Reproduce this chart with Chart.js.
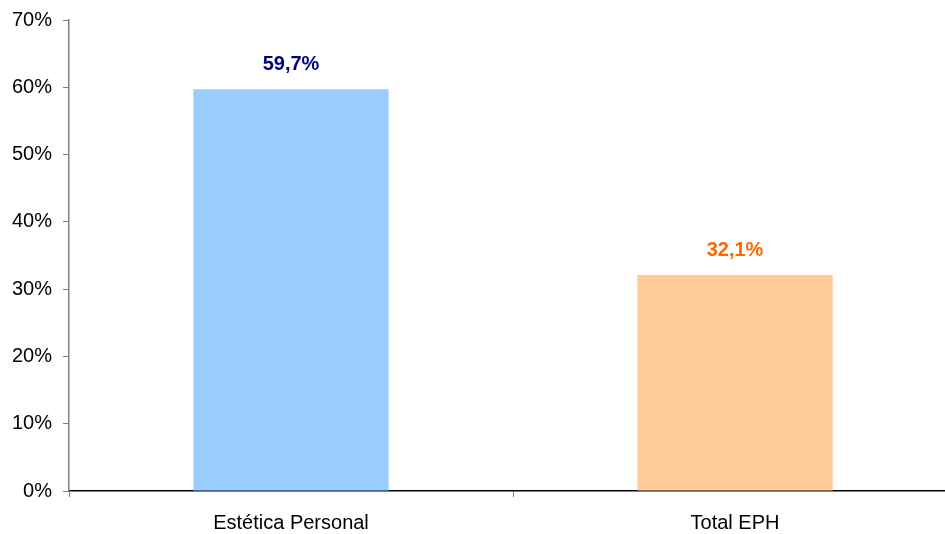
<!DOCTYPE html>
<html>
<head>
<meta charset="utf-8">
<script src="https://cdn.jsdelivr.net/npm/chart.js@4.4.1/dist/chart.umd.min.js"></script>
<style>
  body { margin: 0; background: #fff; overflow: hidden; }
  #wrap { width: 957px; height: 534px; }
</style>
</head>
<body>
<div id="wrap"><canvas id="barChart"></canvas></div>
<script>
// datos
const categorias = ['Estética Personal', 'Total EPH'];
const valores = [59.7, 32.1];
const coloresBarra = ['#99CCFF', '#FFCC99'];
const coloresEtiqueta = ['#000080', '#FF6600'];

// etiquetas sobre las barras
const etiquetas = {
    id: 'etiquetas',
    afterDatasetsDraw(chart) {
        const ctx = chart.ctx;
        const meta = chart.getDatasetMeta(0);
        ctx.save();
        ctx.font = 'bold 20px "Liberation Sans", Arial, sans-serif';
        ctx.textAlign = 'center';
        ctx.textBaseline = 'middle';
        meta.data.forEach((bar, i) => {
            ctx.fillStyle = coloresEtiqueta[i];
            ctx.fillText(valores[i].toFixed(1).replace('.', ',') + '%', bar.x, bar.y - 25);
        });
        ctx.restore();
    }
};

// el gráfico original está recortado a la derecha: el área sigue más allá de 945px
new Chart(document.getElementById('barChart'), {
    type: 'bar',
    data: {
        labels: categorias,
        datasets: [{
            data: valores,
            backgroundColor: coloresBarra,
            borderWidth: 0,
            categoryPercentage: 1,
            barPercentage: 0.44
        }]
    },
    options: {
        responsive: true,
        maintainAspectRatio: false,
        animation: false,
        layout: { padding: { top: 0, right: 0, left: 0, bottom: 0 } },
        plugins: { legend: { display: false }, tooltip: { enabled: false } },
        scales: {
            x: {
                offset: true,
                afterFit: s => { s.height = 43; },
                grid: { offset: true, drawOnChartArea: false, drawTicks: true, tickLength: 6, color: '#808080' },
                border: { color: '#000', width: 1.5 },
                ticks: { color: '#000', padding: 14, font: { family: '"Liberation Sans", Arial, sans-serif', size: 20 } }
            },
            y: {
                min: 0,
                max: 70,
                afterFit: s => { s.width = 69; s.paddingTop = 20; },
                grid: { drawOnChartArea: false, drawTicks: true, tickLength: 6, color: '#808080' },
                border: { color: '#808080', width: 1.5 },
                ticks: {
                    stepSize: 10,
                    color: '#000',
                    padding: 11,
                    font: { family: '"Liberation Sans", Arial, sans-serif', size: 20 },
                    callback: v => v + '%'
                }
            }
        }
    },
    plugins: [etiquetas]
});
</script>
</body>
</html>
